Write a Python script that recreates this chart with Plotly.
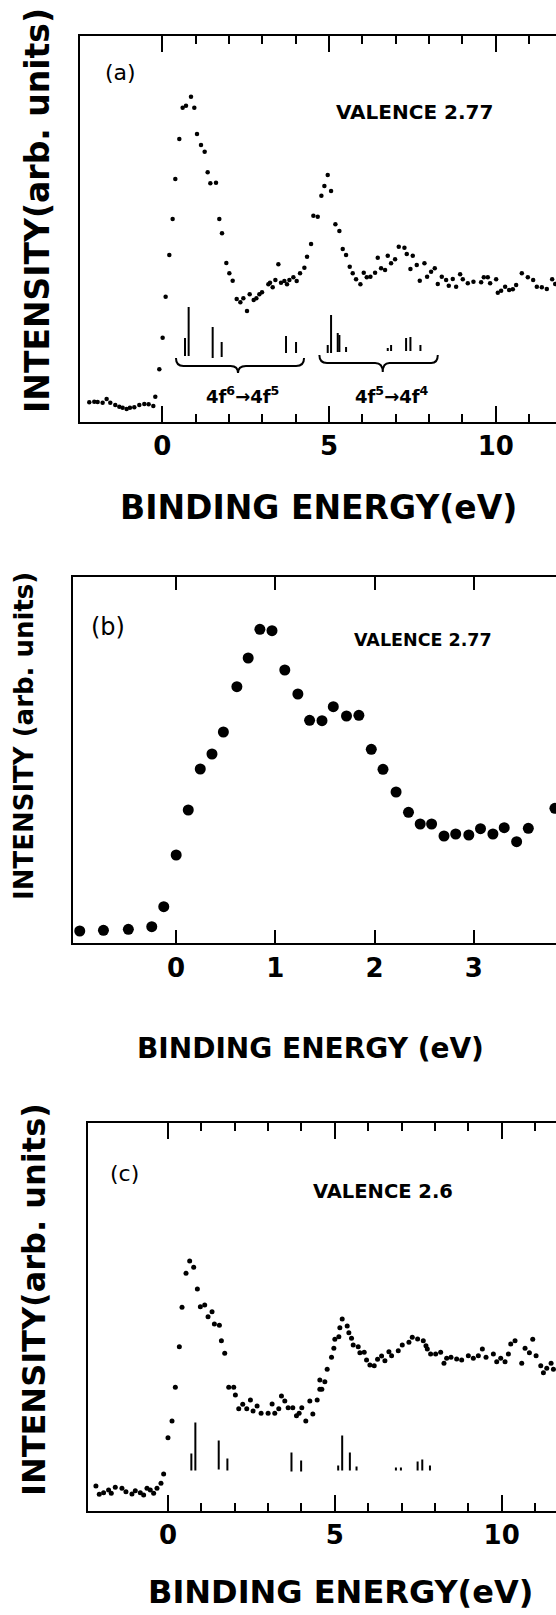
import plotly.graph_objects as go

W, H = 556, 1615
FONT = "DejaVu Sans"

# ---------------- Panel (a) data ----------------
a_energy = [-2.19, -2.04, -1.94, -1.79, -1.67, -1.56, -1.41, -1.29, -1.19, -1.07, -0.97, -0.84, -0.69, -0.54,
            -0.41, -0.27, -0.21, -0.09, 0.01, 0.10, 0.21, 0.31, 0.39, 0.51, 0.61, 0.71, 0.86, 0.96, 1.04, 1.16,
            1.27, 1.36, 1.44, 1.61, 1.71, 1.79, 1.92, 2.01, 2.11, 2.23, 2.34, 2.43, 2.54, 2.62, 2.74, 2.82, 2.91,
            2.99, 3.18, 3.23, 3.31, 3.39, 3.48, 3.56, 3.66, 3.74, 3.81, 3.93, 4.03, 4.13, 4.26, 4.34, 4.46, 4.53,
            4.66, 4.77, 4.86, 4.96, 5.06, 5.19, 5.31, 5.41, 5.51, 5.62, 5.71, 5.81, 5.94, 6.04, 6.13, 6.24, 6.38,
            6.46, 6.56, 6.68, 6.76, 6.86, 6.98, 7.09, 7.26, 7.33, 7.44, 7.51, 7.63, 7.72, 7.86, 7.94, 8.06, 8.17,
            8.26, 8.38, 8.51, 8.59, 8.71, 8.81, 8.93, 9.01, 9.16, 9.33, 9.56, 9.64, 9.76, 9.83, 10.01, 10.06,
            10.16, 10.28, 10.40, 10.51, 10.61, 10.78, 10.96, 11.12, 11.23, 11.38, 11.53, 11.69, 11.78]
a_intensity = [19.7, 20.3, 20.0, 19.3, 23.0, 19.3, 17.0, 15.3, 14.3, 13.0, 14.3, 14.7, 17.0, 18.0,
               17.7, 16.0, 25.3, 52.7, 84.3, 125.3, 167.0, 203.0, 243.0, 283.0, 314.3, 316.3, 325.3, 314.3, 288.0, 277.0,
               270.3, 249.7, 238.7, 239.3, 203.0, 188.7, 159.0, 148.7, 141.3, 123.0, 119.7, 123.7, 111.0, 127.7, 122.0, 123.7, 127.7,
               129.7, 137.7, 139.3, 134.7, 142.0, 157.7, 139.3, 141.0, 137.7, 142.0, 144.7, 141.0, 148.7, 154.3, 165.3, 178.0, 206.3,
               205.3, 226.3, 236.0, 247.0, 231.0, 197.7, 191.0, 173.0, 167.0, 155.3, 148.7, 142.7, 137.7, 149.3, 144.7, 145.3, 149.3,
               164.3, 153.7, 152.0, 166.3, 158.7, 162.7, 175.3, 174.3, 168.0, 153.0, 166.3, 157.0, 141.3, 158.7, 145.3, 150.3, 153.7,
               138.0, 145.3, 142.0, 136.3, 143.0, 135.3, 147.7, 142.7, 138.7, 140.3, 139.7, 144.7, 144.7, 138.7, 142.7, 129.3,
               131.3, 135.3, 132.0, 132.7, 137.0, 148.7, 144.7, 142.0, 135.3, 134.7, 133.0, 142.7, 138.0]

# stick spectrum (a): energy, base, top
a_stick_e = [0.68, 0.79, 1.51, 1.78, 3.71, 4.01, 4.96, 5.06, 5.26, 5.31, 5.51, 6.76, 6.86, 7.31, 7.44, 7.74]
a_stick_base = [66, 66, 64, 65, 69, 69, 69, 69, 70, 70, 70, 71, 71, 71, 71, 71]
a_stick_top = [84, 115, 95, 80, 86, 80, 77, 107, 89, 87, 75, 74, 77, 84, 85, 77]

# braces (a): start, centre, end, end height, mid height, tip height
brace_start = [0.41, 4.71]
brace_centre = [2.27, 6.61]
brace_end = [4.25, 8.26]
brace_y_end = [64, 67]
brace_y_mid = [56, 59]
brace_y_tip = [49, 50]
brace_labels = ["4f<sup>6</sup>→4f<sup>5</sup>", "4f<sup>5</sup>→4f<sup>4</sup>"]
brace_label_x = [2.40, 6.88]
brace_label_y = [27, 27]

# ---------------- Panel (b) data ----------------
b_energy = [-0.972, -0.733, -0.482, -0.246, -0.125, 0.0, 0.122, 0.243, 0.361, 0.476, 0.612, 0.726, 0.844,
            0.966, 1.095, 1.227, 1.345, 1.470, 1.584, 1.717, 1.842, 1.967, 2.085, 2.217, 2.342, 2.460, 2.575,
            2.700, 2.818, 2.950, 3.068, 3.193, 3.307, 3.432, 3.550, 3.818]
b_intensity = [12.3, 13.0, 14.0, 16.6, 36.6, 88.3, 133.3, 174.3, 189.3, 211.3, 256.6, 285.3, 314.0,
               312.6, 273.3, 249.3, 223.0, 222.6, 236.6, 227.3, 228.0, 194.0, 174.0, 151.3, 131.0, 119.3, 119.3,
               107.3, 109.3, 108.3, 114.6, 109.3, 115.6, 101.6, 115.0, 135.0]

# ---------------- Panel (c) data ----------------
c_energy = [-2.16, -2.06, -1.93, -1.78, -1.70, -1.58, -1.38, -1.26, -1.08, -0.98, -0.83, -0.73, -0.63, -0.53,
            -0.43, -0.33, -0.21, -0.13, 0.00, 0.12, 0.22, 0.34, 0.42, 0.54, 0.65, 0.77, 0.88, 0.97, 1.10, 1.20,
            1.32, 1.39, 1.54, 1.60, 1.70, 1.82, 1.97, 2.02, 2.12, 2.24, 2.36, 2.47, 2.55, 2.67, 2.79, 3.00, 3.12,
            3.20, 3.32, 3.40, 3.50, 3.60, 3.74, 3.85, 3.93, 4.01, 4.13, 4.25, 4.34, 4.47, 4.55, 4.55,
            4.61, 4.70, 4.77, 4.90, 4.97, 5.00, 5.12, 5.15, 5.22, 5.37, 5.42, 5.50, 5.55, 5.70, 5.75, 5.88, 5.95,
            6.05, 6.18, 6.28, 6.40, 6.50, 6.62, 6.70, 6.90, 7.02, 7.22, 7.32, 7.48, 7.65, 7.73, 7.77, 7.87, 8.02,
            8.17, 8.27, 8.35, 8.48, 8.65, 8.80, 9.00, 9.15, 9.30, 9.42, 9.53, 9.75, 9.85, 9.97, 10.10, 10.20,
            10.27, 10.40, 10.60, 10.70, 10.83, 10.93, 11.03, 11.17, 11.25, 11.35, 11.48, 11.55]
c_intensity = [24.5, 16.2, 17.8, 20.5, 17.2, 23.2, 22.2, 18.8, 16.5, 19.8, 17.8, 15.5, 22.2, 20.5,
               17.2, 22.2, 27.2, 36.5, 72.8, 89.5, 123.2, 163.8, 203.2, 237.2, 249.5, 243.2, 221.5, 203.8, 205.5, 193.8,
               198.8, 186.5, 185.2, 169.8, 157.2, 123.2, 123.2, 115.5, 101.8, 106.2, 101.8, 110.5, 99.5, 104.5, 97.2, 97.2, 106.5,
               97.2, 101.8, 114.5, 109.5, 102.8, 102.8, 94.8, 97.2, 102.8, 89.5, 109.5, 96.5, 110.5, 121.2, 130.5,
               121.2, 128.8, 141.2, 153.2, 162.2, 171.2, 173.8, 182.8, 191.5, 184.5, 177.8, 172.2, 165.5, 163.8, 157.8, 158.2, 150.5,
               145.5, 144.8, 151.2, 154.5, 149.8, 158.8, 154.8, 159.8, 165.5, 168.2, 173.2, 171.5, 169.8, 164.8, 161.5, 156.5, 156.5,
               158.2, 147.2, 152.2, 153.2, 151.5, 150.5, 154.8, 152.2, 154.8, 161.5, 153.2, 156.5, 148.8, 152.2, 148.8, 156.5,
               166.5, 169.8, 147.2, 162.2, 157.8, 171.2, 154.8, 144.8, 137.8, 142.2, 147.2, 141.2]

c_stick_e = [0.70, 0.82, 1.52, 1.78, 3.70, 3.99, 5.10, 5.22, 5.45, 5.65, 6.83, 6.98, 7.48, 7.62, 7.85]
c_stick_base = [40, 40, 41, 40, 39, 39, 40, 40, 40, 40, 40, 40, 40, 40, 40]
c_stick_top = [57, 88, 70, 52, 58, 50, 45, 75, 58, 44, 43, 43, 49, 51, 45]

# tick values
major_ae = [0, 5, 10]
minor_ae = [1, 2, 3, 4, 6, 7, 8, 9, 11]
major_b = [0, 1, 2, 3]


def px_x(p):
    return p / W


def px_y(p):
    return 1 - p / H


def sticks(es, bs, ts):
    xs, ys = [], []
    for e, b, t in zip(es, bs, ts):
        xs += [e, e, None]
        ys += [b, t, None]
    return xs, ys


def brace_path(x0, xc, x1, ye, ym, yt):
    d0 = (xc - x0) * 0.12
    d1 = (x1 - xc) * 0.12
    return (f"M {x0},{ye} Q {x0},{ym} {x0 + d0},{ym} L {xc - d0},{ym} "
            f"Q {xc},{ym} {xc},{yt} Q {xc},{ym} {xc + d1},{ym} "
            f"L {x1 - d1},{ym} Q {x1},{ym} {x1},{ye}")


fig = go.Figure()

# panel a
fig.add_trace(go.Scatter(x=a_energy, y=a_intensity, mode="markers",
                         marker=dict(size=4.5, color="black"), xaxis="x", yaxis="y"))
sx, sy = sticks(a_stick_e, a_stick_base, a_stick_top)
fig.add_trace(go.Scatter(x=sx, y=sy, mode="lines", line=dict(color="black", width=2),
                         xaxis="x", yaxis="y"))
# panel b
fig.add_trace(go.Scatter(x=b_energy, y=b_intensity, mode="markers",
                         marker=dict(size=11, color="black"), xaxis="x2", yaxis="y2"))
# panel c
fig.add_trace(go.Scatter(x=c_energy, y=c_intensity, mode="markers",
                         marker=dict(size=5, color="black"), xaxis="x3", yaxis="y3"))
sx, sy = sticks(c_stick_e, c_stick_base, c_stick_top)
fig.add_trace(go.Scatter(x=sx, y=sy, mode="lines", line=dict(color="black", width=2),
                         xaxis="x3", yaxis="y3"))

tickfont = dict(family=FONT, size=26, color="black", weight="bold")


def xaxis_cfg(left, rng, majors, minors, majlen, minlen):
    cfg = dict(domain=[px_x(left), 1], range=rng, showline=True, linecolor="black", linewidth=2,
               mirror="allticks", ticks="inside", tickmode="array", tickvals=majors,
               ticktext=[str(v) for v in majors], ticklen=majlen, tickwidth=2, tickcolor="black",
               showgrid=False, zeroline=False, tickfont=tickfont, fixedrange=True)
    if minors:
        cfg["minor"] = dict(tickmode="array", tickvals=minors, ticks="inside", ticklen=minlen,
                            tickwidth=2, tickcolor="black", showgrid=False)
    return cfg


def yaxis_cfg(top, bottom, height, anchor):
    return dict(domain=[px_y(bottom), px_y(top)], range=[0, height], showline=True, linecolor="black",
                linewidth=2, mirror=False, ticks="", showticklabels=False, showgrid=False,
                zeroline=False, anchor=anchor, fixedrange=True)


fig.update_layout(
    width=W, height=H, margin=dict(l=0, r=0, t=0, b=0),
    paper_bgcolor="white", plot_bgcolor="white", showlegend=False,
    xaxis=dict(**xaxis_cfg(80, [-2.468, 11.805], major_ae, minor_ae, 16, 8), anchor="y"),
    yaxis=yaxis_cfg(36, 422, 386, "x"),
    xaxis2=dict(**xaxis_cfg(72.7, [-1.043, 3.829], major_b, None, 13, 0), anchor="y2"),
    yaxis2=yaxis_cfg(577.3, 943.3, 366, "x2"),
    xaxis3=dict(**xaxis_cfg(88, [-2.397, 11.627], major_ae, minor_ae, 16, 8), anchor="y3"),
    yaxis3=yaxis_cfg(1123.3, 1510.5, 387.2, "x3"),
)

# braces
for x0, xc, x1, ye, ym, yt in zip(brace_start, brace_centre, brace_end, brace_y_end, brace_y_mid, brace_y_tip):
    fig.add_shape(type="path", path=brace_path(x0, xc, x1, ye, ym, yt), xref="x", yref="y",
                  line=dict(color="black", width=2))

ann = []
for t, x, y in zip(brace_labels, brace_label_x, brace_label_y):
    ann.append(dict(text=t, x=x, y=y, xref="x", yref="y", showarrow=False,
                    font=dict(family=FONT, size=18, color="black", weight="bold")))


def paper_text(text, x, y, size, bold=True, angle=0):
    return dict(text=text, x=px_x(x), y=px_y(y), xref="paper", yref="paper", showarrow=False,
                textangle=angle, xanchor="center", yanchor="middle",
                font=dict(family=FONT, size=size, color="black", weight="bold" if bold else "normal"))


# panel a texts
ann.append(paper_text("(a)", 120, 73, 22, bold=False))
ann.append(paper_text("VALENCE 2.77", 414, 112, 20))
ann.append(paper_text("BINDING ENERGY(eV)", 318, 507, 33))
ann.append(paper_text("INTENSITY(arb. units)", 37, 211, 33, angle=-90))
# panel b texts
ann.append(paper_text("(b)", 108, 627, 24, bold=False))
ann.append(paper_text("VALENCE 2.77", 423, 640, 17.5))
ann.append(paper_text("BINDING ENERGY (eV)", 310, 1048, 28))
ann.append(paper_text("INTENSITY (arb. units)", 24, 736, 26, angle=-90))
# panel c texts
ann.append(paper_text("(c)", 124, 1173, 22, bold=False))
ann.append(paper_text("VALENCE 2.6", 383, 1191, 19.5))
ann.append(paper_text("BINDING ENERGY(eV)", 340, 1592, 32))
ann.append(paper_text("INTENSITY(arb. units)", 34, 1300, 32, angle=-90))

fig.update_layout(annotations=ann)
fig.write_html(
    "out.html",
    config={"displayModeBar": False},
    post_script="document.body.style.margin='0';document.body.style.padding='0';"
                "document.documentElement.style.overflow='hidden';document.body.style.overflow='hidden';",
)
